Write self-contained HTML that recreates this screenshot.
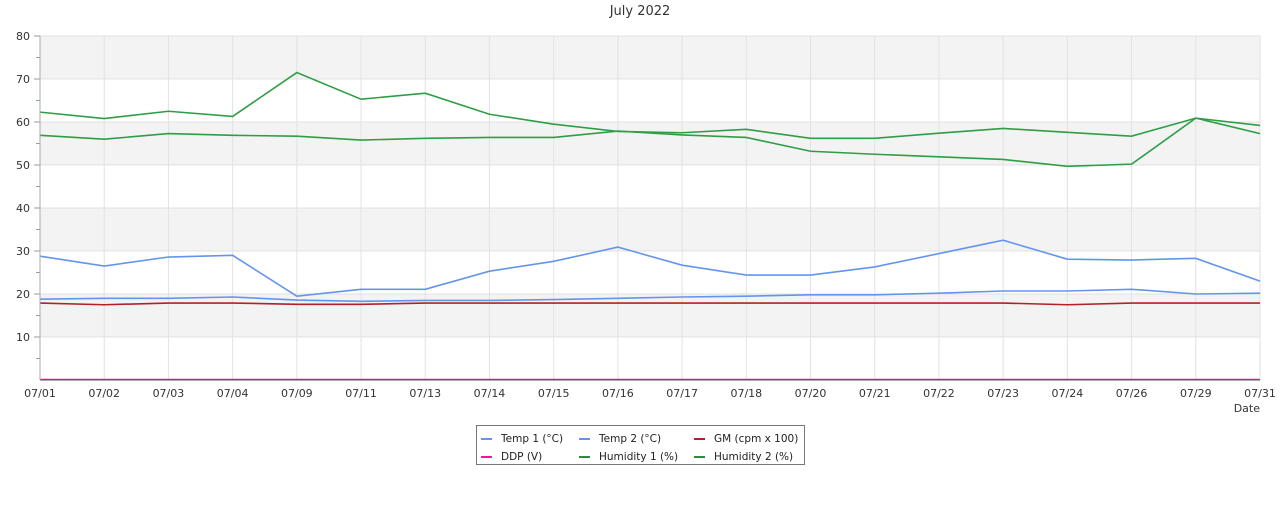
<!DOCTYPE html><html><head><meta charset="utf-8"><style>body{margin:0;background:#fff}svg{font-family:"DejaVu Sans","Liberation Sans",sans-serif}</style></head><body>
<svg width="1280" height="500" xmlns="http://www.w3.org/2000/svg">
<text x="640" y="15" font-size="13" fill="#333" text-anchor="middle">July 2022</text>
<g fill="#f3f3f3"><rect x="40" y="36" width="1220" height="43"/><rect x="40" y="122" width="1220" height="43"/><rect x="40" y="208" width="1220" height="43"/><rect x="40" y="294" width="1220" height="43"/></g>
<g id="g" stroke="#e2e2e2" stroke-width="1"></g>
<g id="s" fill="none" stroke-width="1.6"></g>
<line x1="40" y1="380" x2="1260" y2="380" stroke="#555"/>
<line x1="40" y1="36" x2="40" y2="380" stroke="#aaa"/>
<g id="t" font-size="11" fill="#333"></g>
<text x="1260" y="412" font-size="11" fill="#333" text-anchor="end">Date</text>
<rect x="476.5" y="425.5" width="328" height="39" fill="#fff" stroke="#777"/>
<g font-size="10.5" fill="#222">
<line x1="481" y1="439" x2="492" y2="439" stroke="#6495ed" stroke-width="2"/><text x="501" y="442">Temp 1 (°C)</text>
<line x1="579" y1="439" x2="590" y2="439" stroke="#6495ed" stroke-width="2"/><text x="599" y="442">Temp 2 (°C)</text>
<line x1="694" y1="439" x2="705" y2="439" stroke="#b22222" stroke-width="2"/><text x="714" y="442">GM (cpm x 100)</text>
<line x1="481" y1="457" x2="492" y2="457" stroke="#ff1493" stroke-width="2"/><text x="501" y="460">DDP (V)</text>
<line x1="579" y1="457" x2="590" y2="457" stroke="#2e8b3e" stroke-width="2"/><text x="599" y="460">Humidity 1 (%)</text>
<line x1="694" y1="457" x2="705" y2="457" stroke="#2e8b3e" stroke-width="2"/><text x="714" y="460">Humidity 2 (%)</text>
</g>
</svg>
<script>
const L=["07/01","07/02","07/03","07/04","07/09","07/11","07/13","07/14","07/15","07/16","07/17","07/18","07/20","07/21","07/22","07/23","07/24","07/26","07/29","07/31"];
const X=i=>40+i*1220/19,Y=v=>380-v*4.3,ns="http://www.w3.org/2000/svg";
const g=document.getElementById('g'),t=document.getElementById('t'),s=document.getElementById('s');
function el(p,n,a,tx){const e=document.createElementNS(ns,n);for(const k in a)e.setAttribute(k,a[k]);if(tx)e.textContent=tx;p.appendChild(e);}
L.forEach((l,i)=>{if(i)el(g,'line',{x1:X(i),y1:36,x2:X(i),y2:380});el(t,'text',{x:X(i),y:397,'text-anchor':'middle'},l);});
for(let v=10;v<=80;v+=10){el(g,'line',{x1:40,y1:Y(v),x2:1260,y2:Y(v)});el(t,'text',{x:30,y:Y(v)+4,'text-anchor':'end'},v);}
for(let v=5;v<80;v+=10)el(g,'line',{x1:36,y1:Y(v),x2:40,y2:Y(v),stroke:'#999'});
for(let v=10;v<=80;v+=10)el(g,'line',{x1:34,y1:Y(v),x2:40,y2:Y(v),stroke:'#999'});
const D=[
["#ff1493",Array(20).fill(0.1)],
["#b22222",[17.9,17.5,17.9,17.9,17.6,17.6,17.9,17.9,17.9,17.9,17.9,17.9,17.9,17.9,17.9,17.9,17.5,17.9,17.9,17.9]],
["#6495ed",[18.8,19,19,19.3,18.6,18.3,18.5,18.5,18.7,19,19.3,19.5,19.8,19.8,20.2,20.7,20.7,21.1,20,20.2]],
["#6495ed",[28.8,26.5,28.6,29,19.5,21.1,21.1,25.3,27.6,30.9,26.7,24.4,24.4,26.3,29.4,32.5,28.1,27.9,28.3,23]],
["#2e9e46",[56.9,56,57.3,56.9,56.7,55.8,56.2,56.4,56.4,57.9,57,56.4,53.2,52.5,51.9,51.3,49.7,50.2,60.9,57.3]],
["#2e9e46",[62.3,60.8,62.5,61.3,71.5,65.3,66.7,61.8,59.5,57.8,57.5,58.3,56.2,56.2,57.4,58.5,57.6,56.7,60.9,59.2]]];
D.forEach(([c,d])=>el(s,'polyline',{stroke:c,points:d.map((v,i)=>X(i)+','+Y(v)).join(' ')}));
</script>
</body></html>
